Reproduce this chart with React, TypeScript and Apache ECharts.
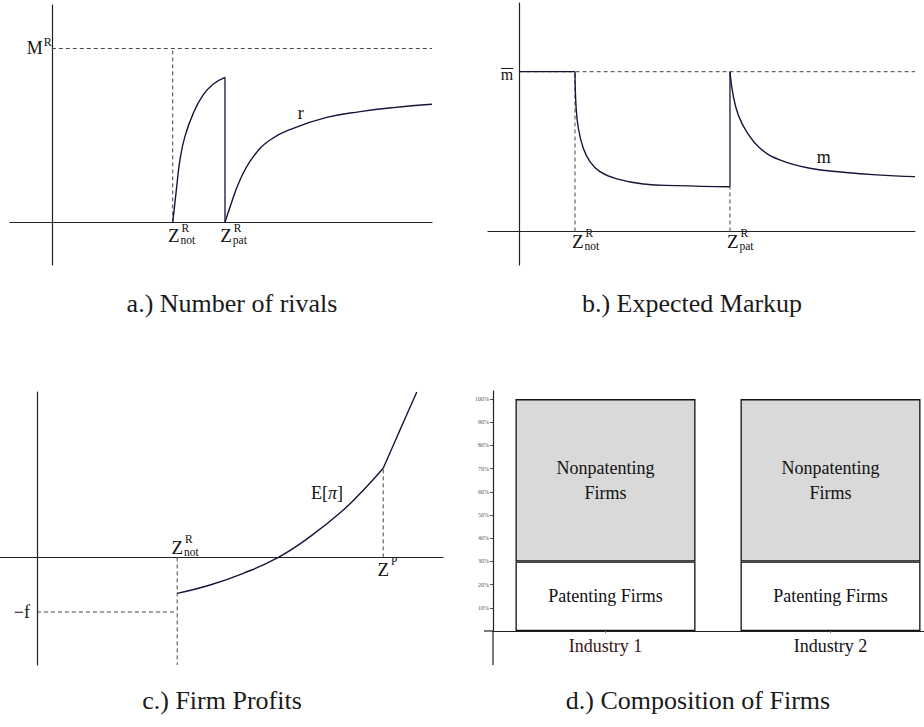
import React, { useEffect, useRef } from 'react';
import * as echarts from 'echarts';

const SERIF = "'Liberation Serif', 'Times New Roman', Times, serif";
const INK = '#15153a';
const AXIS = '#222';
const DASH = '#444';
const TEXT = '#111';

// a.) Number of rivals
const rivalsCeiling = 10; // M^R
const zNotRivals = 3.18;
const zPatRivals = 4.555;
const rivalsXMax = 10;
const rivalsNotPatenting: number[][] = [
  [3.18, 0], [3.285, 2.05], [3.37, 3.59], [3.5, 4.93], [3.72, 6.27],
  [3.98, 7.33], [4.25, 7.96], [4.555, 8.34],
];
const rivalsPatenting: number[][] = [
  [4.555, 0], [4.69, 0.9], [4.95, 2.44], [5.3, 3.78], [5.74, 4.74],
  [6.35, 5.41], [7.23, 6.04], [8.11, 6.37], [8.98, 6.6], [10, 6.79],
];
const rivalsLabelAt = [6.55, 6.29];

// b.) Expected markup
const markupCeiling = 10; // m-bar
const zNotMarkup = 1.4;
const zPatMarkup = 5.32;
const markupXMax = 10;
const markupNotPatenting: number[][] = [
  [1.4, 10], [1.425, 7.92], [1.485, 6.46], [1.61, 5.21], [1.78, 4.37],
  [2.03, 3.74], [2.46, 3.29], [3.13, 2.97], [3.97, 2.87], [5.32, 2.8],
];
const markupPatenting: number[][] = [
  [5.32, 10], [5.4, 8.54], [5.53, 7.29], [5.74, 6.25], [6.08, 5.21],
  [6.58, 4.48], [7.34, 3.96], [8.19, 3.71], [9.03, 3.54], [10, 3.43],
];
const markupLabelAt = [7.69, 4.66];

// c.) Firm profits
const fixedCost = 3.4;
const zNotProfit = 3.8;
const zPatent = 9.38;
const profitNotPatenting: number[][] = [
  [3.8, -2.24], [4.69, -1.72], [5.59, -0.99], [6.54, 0], [7.4, 1.29],
  [8.3, 2.95], [8.93, 4.4], [9.38, 5.55],
];
const profitPatenting: number[][] = [[9.38, 5.55], [9.83, 7.91], [10.29, 10.3]];
const profitLabelAt = [7.86, 3.98];

// d.) Composition of firms
const industries = ['Industry 1', 'Industry 2'];
const patentingShare = [30, 30];
const nonpatentingShare = [70, 70];
const shareTicks = [10, 20, 30, 40, 50, 60, 70, 80, 90, 100];

const captions = [
  { text: 'a.) Number of rivals', x: 232, y: 303 },
  { text: 'b.) Expected Markup', x: 692, y: 303 },
  { text: 'c.) Firm Profits', x: 222, y: 700 },
  { text: 'd.) Composition of Firms', x: 698, y: 700 },
];

function plainAxis(gridIndex: number, min: number, max: number) {
  return {
    type: 'value',
    gridIndex,
    min,
    max,
    axisLine: { show: true, onZero: true, lineStyle: { color: AXIS, width: 1.2 } },
    axisTick: { show: false },
    axisLabel: { show: false },
    splitLine: { show: false },
  };
}

function curve(g: number, data: number[][]) {
  return {
    type: 'line', xAxisIndex: g, yAxisIndex: g, data, symbol: 'none', silent: true,
    smooth: 0.45,
    lineStyle: { color: INK, width: 1.4 },
  };
}

function straight(g: number, data: number[][]) {
  return {
    type: 'line', xAxisIndex: g, yAxisIndex: g, data, symbol: 'none', silent: true,
    lineStyle: { color: INK, width: 1.3 },
  };
}

function dashed(g: number, data: number[][]) {
  return {
    type: 'line', xAxisIndex: g, yAxisIndex: g, data, symbol: 'none', silent: true,
    lineStyle: { color: DASH, width: 1, type: [4, 3] },
  };
}

function buildOption() {
  const gridBase = { containLabel: false, outerBoundsMode: 'none' };
  return {
    animation: false,
    backgroundColor: '#fff',
    textStyle: { fontFamily: SERIF },
    grid: [
      { ...gridBase, left: 10, top: 5, width: 422, height: 260 },
      { ...gridBase, left: 488, top: 3, width: 427, height: 262 },
      { ...gridBase, left: 0, top: 392, width: 443, height: 273 },
      { ...gridBase, left: 493, top: 391, width: 450, height: 240 },
    ],
    xAxis: [
      plainAxis(0, -1.1, 10),
      plainAxis(1, -0.8, 10),
      plainAxis(2, -1, 11),
      {
        type: 'category', gridIndex: 3, data: industries, boundaryGap: true,
        axisLine: { show: true, lineStyle: { color: AXIS, width: 1.2 } },
        axisTick: { show: true, alignWithLabel: true, length: 2, lineStyle: { color: '#777' } },
        axisLabel: {
          show: true,
          margin: 6,
          formatter: (v: string) => (v === industries[0] ? `{first|${v}}` : `{other|${v}}`),
          rich: {
            first: { fontSize: 18, fontFamily: SERIF, color: '#3a1414' },
            other: { fontSize: 18, fontFamily: SERIF, color: TEXT },
          },
        },
        splitLine: { show: false },
      },
    ],
    yAxis: [
      plainAxis(0, -2.45, 12.5),
      plainAxis(1, -2.1, 14.3),
      plainAxis(2, -6.7, 10.3),
      {
        type: 'value', gridIndex: 3, min: 0, max: 103.5,
        axisLine: { show: true, lineStyle: { color: AXIS, width: 1.2 } },
        axisTick: { show: true, customValues: shareTicks, length: 3, lineStyle: { color: '#555' } },
        axisLabel: {
          show: true,
          customValues: shareTicks,
          margin: 4,
          formatter: (v: number) => `${v}%`,
          fontSize: 6,
          fontFamily: SERIF,
          color: '#555',
        },
        splitLine: { show: false },
      },
    ],
    series: [
      // a.)
      dashed(0, [[0, rivalsCeiling], [rivalsXMax, rivalsCeiling]]),
      dashed(0, [[zNotRivals, 0], [zNotRivals, rivalsCeiling]]),
      curve(0, rivalsNotPatenting),
      straight(0, [[zPatRivals, rivalsNotPatenting[rivalsNotPatenting.length - 1][1]], [zPatRivals, 0]]),
      curve(0, rivalsPatenting),
      // b.)
      dashed(1, [[0, markupCeiling], [markupXMax, markupCeiling]]),
      straight(1, [[0, markupCeiling], [zNotMarkup, markupCeiling]]),
      dashed(1, [[zNotMarkup, 0], [zNotMarkup, markupCeiling]]),
      curve(1, markupNotPatenting),
      straight(1, [[zPatMarkup, markupNotPatenting[markupNotPatenting.length - 1][1]], [zPatMarkup, markupCeiling]]),
      dashed(1, [[zPatMarkup, 0], [zPatMarkup, markupNotPatenting[markupNotPatenting.length - 1][1]]]),
      curve(1, markupPatenting),
      // c.)
      dashed(2, [[zNotProfit, 0], [zNotProfit, -6.7]]),
      dashed(2, [[0, -fixedCost], [zNotProfit, -fixedCost]]),
      dashed(2, [[zPatent, 0], [zPatent, profitPatenting[0][1]]]),
      curve(2, profitNotPatenting),
      curve(2, profitPatenting),
      // d.)
      {
        type: 'bar', name: 'Patenting Firms', xAxisIndex: 3, yAxisIndex: 3, stack: 'firms',
        barWidth: '80%', silent: true,
        data: patentingShare,
        itemStyle: { color: '#ffffff', borderColor: '#111', borderWidth: 1.3 },
        label: {
          show: true, position: 'inside', formatter: 'Patenting Firms',
          fontSize: 18, fontFamily: SERIF, color: TEXT, textBorderWidth: 0,
        },
      },
      {
        type: 'bar', name: 'Nonpatenting Firms', xAxisIndex: 3, yAxisIndex: 3, stack: 'firms',
        barWidth: '80%', silent: true,
        data: nonpatentingShare,
        itemStyle: { color: '#d9d9d9', borderColor: '#111', borderWidth: 1.3 },
        label: {
          show: true, position: 'inside', formatter: 'Nonpatenting\nFirms',
          fontSize: 18, lineHeight: 25, fontFamily: SERIF, color: TEXT, textBorderWidth: 0,
        },
      },
    ],
  };
}

function txt(x: number, y: number, text: string, size: number, align = 'left', extra: any = {}) {
  return {
    type: 'text', x, y, silent: true,
    style: { text, fontSize: size, fontFamily: SERIF, fill: TEXT, align, verticalAlign: 'middle', ...extra },
  };
}

// "Z" with a superscript and an optional subscript; (x, y) is the left edge / middle of the Z
function zLabel(x: number, y: number, sup: string, sub: string) {
  const out: any[] = [txt(x, y, 'Z', 19), txt(x + 13.5, y - 8, sup, 11.5)];
  if (sub) out.push(txt(x + 12.5, y + 4.5, sub, 11.5));
  return out;
}

function axisStub(x1: number, y1: number, x2: number, y2: number) {
  return {
    type: 'line', silent: true,
    shape: { x1, y1, x2, y2 },
    style: { stroke: AXIS, lineWidth: 1.2 },
  };
}

function buildLabels(chart: any) {
  const P = (g: number, x: any, y: number) => chart.convertToPixel({ gridIndex: g }, [x, y]) as number[];
  const els: any[] = [];

  // a.)
  const mr = P(0, 0, rivalsCeiling);
  els.push(txt(mr[0] - 9, mr[1], 'M', 18, 'right'));
  els.push(txt(mr[0] - 8, mr[1] - 6.5, 'R', 12));
  const a1 = P(0, zNotRivals, 0);
  els.push(...zLabel(a1[0] - 4.7, a1[1] + 13.6, 'R', 'not'));
  const a2 = P(0, zPatRivals, 0);
  els.push(...zLabel(a2[0] - 4.7, a2[1] + 13.6, 'R', 'pat'));
  const ar = P(0, rivalsLabelAt[0], rivalsLabelAt[1]);
  els.push(txt(ar[0], ar[1], 'r', 18, 'center'));

  // b.)
  const mb = P(1, 0, markupCeiling);
  els.push(txt(mb[0] - 6.5, mb[1] + 3.2, 'm', 16, 'right'));
  els.push({
    type: 'line', silent: true,
    shape: { x1: mb[0] - 18.5, y1: mb[1] - 3.2, x2: mb[0] - 6.5, y2: mb[1] - 3.2 },
    style: { stroke: TEXT, lineWidth: 1 },
  });
  const b1 = P(1, zNotMarkup, 0);
  els.push(...zLabel(b1[0] - 3, b1[1] + 10, 'R', 'not'));
  const b2 = P(1, zPatMarkup, 0);
  els.push(...zLabel(b2[0] - 3, b2[1] + 10, 'R', 'pat'));
  const bm = P(1, markupLabelAt[0], markupLabelAt[1]);
  els.push(txt(bm[0], bm[1], 'm', 18, 'center'));

  // c.)
  const c1 = P(2, zNotProfit, 0);
  els.push(...zLabel(c1[0] - 5.6, c1[1] - 10, 'R', 'not'));
  const c2 = P(2, zPatent, 0);
  els.push(...zLabel(c2[0] - 5.6, c2[1] + 12, 'P', ''));
  const cf = P(2, 0, -fixedCost);
  els.push(txt(cf[0] - 7, cf[1], '\u2212f', 18, 'right'));
  const ce = P(2, profitLabelAt[0], profitLabelAt[1]);
  els.push({
    type: 'text', x: ce[0], y: ce[1], silent: true,
    style: {
      text: '{u|E[}{i|\u03c0}{u|]}',
      align: 'center', verticalAlign: 'middle',
      rich: {
        u: { fontSize: 18, fontFamily: SERIF, fill: TEXT, color: TEXT },
        i: { fontSize: 18, fontFamily: SERIF, fontStyle: 'italic', fill: TEXT, color: TEXT },
      },
    },
  });

  // d.) axis lines cross each other: extend them past the origin
  const i1 = P(3, industries[0], 0);
  const i2 = P(3, industries[1], 0);
  const originX = i1[0] - (i2[0] - i1[0]) / 2;
  const originY = i1[1];
  els.push(axisStub(originX - 9, originY, originX, originY));
  els.push(axisStub(originX, originY, originX, originY + 34));

  // captions
  for (const c of captions) {
    els.push(txt(c.x, c.y, c.text, 26, 'center', { fill: '#1a1a1a' }));
  }
  return els;
}

export default function App() {
  const ref = useRef<HTMLDivElement>(null);
  useEffect(() => {
    const el = ref.current;
    if (!el) return;
    const chart = echarts.init(el, null, { renderer: 'svg' });
    chart.setOption(buildOption() as any);
    chart.setOption({ graphic: buildLabels(chart) } as any);
    return () => chart.dispose();
  }, []);
  return (
    <div
      ref={ref}
      style={{ position: 'fixed', left: 0, top: 0, width: 924, height: 727, background: '#fff' }}
    />
  );
}
